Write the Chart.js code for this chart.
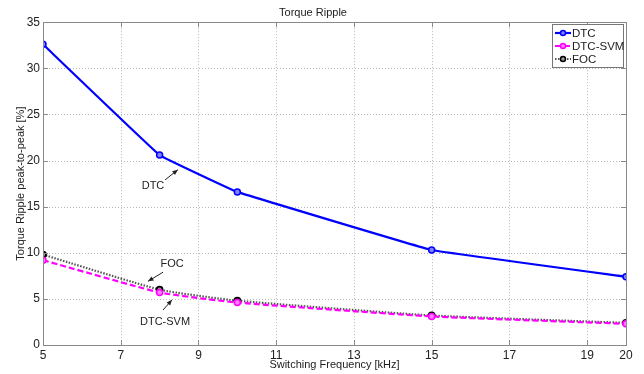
<!DOCTYPE html>
<html><head><meta charset="utf-8">
<script src="https://cdn.jsdelivr.net/npm/chart.js@4/dist/chart.umd.min.js"></script>
<style>html,body{margin:0;padding:0;background:#fff}#wrap{width:644px;height:374px}</style>
</head><body><div id="wrap"><canvas id="c" width="644" height="374"></canvas></div>
<script>
const freq = [5, 8, 10, 15, 20];
const dtc = [32.6, 20.6, 16.6, 10.3, 7.4];
const dtcSvm = [9.2, 5.7, 4.6, 3.1, 2.3];
const foc = [9.8, 6.0, 4.8, 3.2, 2.4];
const xTicks = [5, 7, 9, 11, 13, 15, 17, 19, 20];
const yTicks = [0, 5, 10, 15, 20, 25, 30, 35];
const labels = ['DTC', 'DTC-SVM', 'FOC'];
const notes = [
  {text: 'DTC', tx: 7.83, ty: 17.2, ax0: 8.14, ay0: 17.9, ax1: 8.47, ay1: 19.0},
  {text: 'FOC', tx: 8.32, ty: 8.8, ax0: 8.09, ay0: 7.9, ax1: 7.70, ay1: 6.9},
  {text: 'DTC-SVM', tx: 8.14, ty: 2.5, ax0: 8.09, ay0: 3.8, ax1: 8.32, ay1: 4.9}
];
const FONT = '"Liberation Sans", Arial, sans-serif';
const pts = a => freq.map((f, i) => ({x: f, y: a[i]}));

const extras = {
  id: 'extras',
  beforeDatasetsDraw(chart) {
    const {ctx, chartArea: ca, scales: {x, y}} = chart;
    ctx.save();
    ctx.strokeStyle = '#b8b8b8'; ctx.lineWidth = 1; ctx.setLineDash([1, 2]);
    ctx.beginPath();
    xTicks.forEach(v => { const px = Math.round(x.getPixelForValue(v)) + 0.5;
      ctx.moveTo(px, ca.top); ctx.lineTo(px, ca.bottom); });
    yTicks.forEach(v => { const py = Math.round(y.getPixelForValue(v)) + 0.5;
      ctx.moveTo(ca.left, py); ctx.lineTo(ca.right, py); });
    ctx.stroke();
    ctx.restore();
  },
  afterDraw(chart) {
    const {ctx, chartArea: ca, scales: {x, y}} = chart;
    ctx.save();
    // box
    ctx.strokeStyle = '#8a8a8a'; ctx.lineWidth = 1; ctx.setLineDash([]);
    ctx.strokeRect(Math.round(ca.left) + 0.5, Math.round(ca.top) + 0.5, Math.round(ca.right - ca.left), Math.round(ca.bottom - ca.top));
    // inward ticks
    ctx.beginPath();
    xTicks.forEach(v => { const px = Math.round(x.getPixelForValue(v)) + 0.5;
      ctx.moveTo(px, ca.bottom); ctx.lineTo(px, ca.bottom - 5);
      ctx.moveTo(px, ca.top); ctx.lineTo(px, ca.top + 5); });
    yTicks.forEach(v => { const py = Math.round(y.getPixelForValue(v)) + 0.5;
      ctx.moveTo(ca.left, py); ctx.lineTo(ca.left + 5, py);
      ctx.moveTo(ca.right, py); ctx.lineTo(ca.right - 5, py); });
    ctx.stroke();
    // annotations
    ctx.fillStyle = '#222'; ctx.strokeStyle = '#222'; ctx.lineWidth = 1;
    ctx.font = '11px ' + FONT; ctx.textAlign = 'center'; ctx.textBaseline = 'middle';
    notes.forEach(n => {
      ctx.fillText(n.text, x.getPixelForValue(n.tx), y.getPixelForValue(n.ty));
      const x0 = x.getPixelForValue(n.ax0), y0 = y.getPixelForValue(n.ay0);
      const x1 = x.getPixelForValue(n.ax1), y1 = y.getPixelForValue(n.ay1);
      ctx.beginPath(); ctx.moveTo(x0, y0); ctx.lineTo(x1, y1); ctx.stroke();
      const ang = Math.atan2(y1 - y0, x1 - x0), L = 6, w = 0.4;
      ctx.beginPath(); ctx.moveTo(x1, y1);
      ctx.lineTo(x1 - L * Math.cos(ang - w), y1 - L * Math.sin(ang - w));
      ctx.lineTo(x1 - L * Math.cos(ang + w), y1 - L * Math.sin(ang + w));
      ctx.closePath(); ctx.fill();
    });
    // legend
    const lx = 552, ly = 24, lw = 71, lh = 43;
    ctx.fillStyle = '#fff'; ctx.fillRect(lx, ly, lw, lh);
    ctx.strokeStyle = '#777'; ctx.strokeRect(lx + 0.5, ly + 0.5, lw, lh);
    ctx.textAlign = 'left';
    ctx.font = '11.5px ' + FONT;
    chart.data.datasets.forEach((ds, i) => {
      const yy = ly + 9 + i * 13;
      ctx.strokeStyle = ds.borderColor; ctx.lineWidth = ds.borderWidth;
      ctx.setLineDash(ds.borderDash || []);
      ctx.beginPath(); ctx.moveTo(lx + 3, yy); ctx.lineTo(lx + 19, yy); ctx.stroke();
      ctx.setLineDash([]);
      ctx.lineWidth = 1.5; ctx.strokeStyle = ds.pointBorderColor; ctx.fillStyle = ds.pointBackgroundColor;
      ctx.beginPath(); ctx.arc(lx + 11, yy, 2.5, 0, Math.PI * 2); ctx.fill(); ctx.stroke();
      ctx.fillStyle = '#222'; ctx.fillText(ds.label, lx + 20, yy + 0.5);
    });
    ctx.restore();
  }
};

new Chart(document.getElementById('c'), {
  type: 'line',
  data: {
    datasets: [
      {label: labels[0], data: pts(dtc), borderColor: '#0000ff', borderWidth: 2.2,
       pointBorderColor: '#0000ff', pointBackgroundColor: '#8080ff', pointRadius: 3, pointBorderWidth: 1.5,
       tension: 0.05, order: 1},
      {label: labels[1], data: pts(dtcSvm), borderColor: '#ff00ff', borderWidth: 2.2, borderDash: [6, 3],
       pointBorderColor: '#ff00ff', pointBackgroundColor: '#ff80ff', pointRadius: 3, pointBorderWidth: 1.5,
       tension: 0.15, order: 2},
      {label: labels[2], data: pts(foc), borderColor: '#555555', borderWidth: 2.2, borderDash: [1.5, 1.5],
       pointBorderColor: '#000000', pointBackgroundColor: '#999999', pointRadius: 3, pointBorderWidth: 1.8,
       tension: 0.15, order: 3}
    ]
  },
  options: {
    responsive: false, animation: false,
    layout: {padding: {left: 0, right: 18, top: 0, bottom: 0}},
    plugins: {
      legend: {display: false}, tooltip: {enabled: false},
      title: {display: true, text: 'Torque Ripple', color: '#222', font: {family: FONT, size: 11, weight: 'normal'}, padding: {top: 6, bottom: 3}}
    },
    scales: {
      x: {type: 'linear', min: 5, max: 20,
        afterBuildTicks: s => { s.ticks = xTicks.map(v => ({value: v})); },
        afterFit: s => { s.height = 29; },
        grid: {display: false, drawTicks: false},
        border: {display: false},
        ticks: {color: '#222', font: {family: FONT, size: 12}, padding: 3, maxRotation: 0},
        title: {display: true, text: 'Switching Frequency [kHz]', color: '#222', font: {family: FONT, size: 11}, padding: {top: 0, bottom: 2}}
      },
      y: {type: 'linear', min: 0, max: 35,
        afterBuildTicks: s => { s.ticks = yTicks.map(v => ({value: v})); },
        afterFit: s => { s.width = 43; },
        grid: {display: false, drawTicks: false},
        border: {display: false},
        ticks: {color: '#222', font: {family: FONT, size: 12}, padding: 3},
        title: {display: true, text: 'Torque Ripple peak-to-peak [%]', color: '#222', font: {family: FONT, size: 11}, padding: {top: 14, bottom: 0}}
      }
    }
  },
  plugins: [extras]
});
</script></body></html>
